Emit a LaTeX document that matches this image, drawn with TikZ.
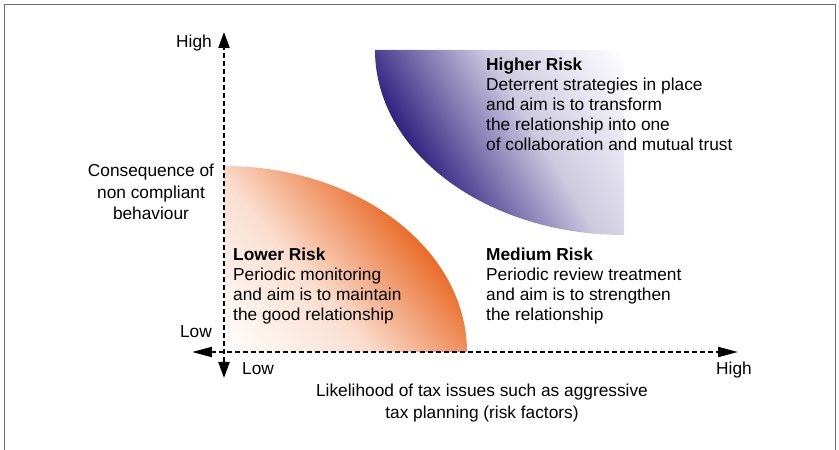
\documentclass[tikz,border=0pt]{standalone}
\usepackage{fontspec}
\setmainfont{Liberation Sans}
\usetikzlibrary{arrows.meta}

\definecolor{riskorange}{RGB}{233,105,38}
\definecolor{riskpurple}{RGB}{46,31,126}
\definecolor{framegray}{RGB}{110,110,110}

\tikzset{
	axis/.style={line width=2pt, dash pattern=on 5pt off 3pt},
	axislabel/.style={inner sep=0pt},
	axistitle/.style={inner sep=0pt, align=center, font=\fontsize{17.3}{21.5}\selectfont},
	riskbox/.style={inner sep=0pt, anchor=north west, align=left}
}

\begin{document}
\begin{tikzpicture}[x=1pt, y=1pt, font=\fontsize{17.3}{20}\selectfont]
	\useasboundingbox (-224,-98) rectangle (615,352);
	% frame, open at the bottom
	\draw[framegray, line width=1pt] (-219,-98) -- (-219,347) -- (611,347) -- (611,-98);

	% lower risk region
	\begin{scope}
		\clip (0,0) -- (0,186) arc[start angle=90, end angle=0,
			x radius=243, y radius=186] -- cycle;
		\shade[transform canvas={rotate=40}, left color=white, right color=riskorange,
			middle color=riskorange!22] (0,-300) rectangle (223,300);
	\end{scope}

	% higher risk region
	\begin{scope}
		\clip (400,302) -- (151,302) arc[start angle=180, end angle=270,
			x radius=249, y radius=185] -- cycle;
		\shade[transform canvas={shift={(400,302)}, rotate=211}, left color=white,
			right color=riskpurple, middle color=riskpurple!24] (0,-300) rectangle (236,300);
	\end{scope}

	% axes
	\coordinate (ytop) at (0,320);
	\coordinate (ybot) at (0,-26);
	\coordinate (xleft) at (-32,0);
	\coordinate (xright) at (514,0);
	\draw[axis, {Triangle[length=16pt,width=11pt]}-{Triangle[length=16pt,width=11pt]}]
		(ybot) -- (ytop);
	\draw[axis, {Triangle[length=20pt,width=10pt]}-{Triangle[length=20pt,width=10pt]}]
		(xleft) -- (xright);

	\node[axislabel, anchor=base east] (yhigh) at (-12,304) {High};
	\node[axislabel, anchor=base east] (ylow) at (-12,14) {Low};
	\node[axislabel, anchor=base west] (xlow) at (18,-23) {Low};
	\node[axislabel, anchor=base west] (xhigh) at (492,-23) {High};

	\node[axistitle] (ytitle) at (-73,160) {Consequence of\\non compliant\\behaviour};
	\node[axistitle, anchor=north] (xtitle) at (258,-32)
		{Likelihood of tax issues such as aggressive\\tax planning (risk factors)};

	% quadrant texts
	\node[riskbox] (higher) at (262,294) {\textbf{Higher Risk}\\Deterrent strategies in place\\and aim is to transform\\the relationship into one\\of collaboration and mutual trust};
	\node[riskbox] (lower) at (9,104) {\textbf{Lower Risk}\\Periodic monitoring\\and aim is to maintain\\the good relationship};
	\node[riskbox] (medium) at (262,104) {\textbf{Medium Risk}\\Periodic review treatment\\and aim is to strengthen\\the relationship};
\end{tikzpicture}
\end{document}
